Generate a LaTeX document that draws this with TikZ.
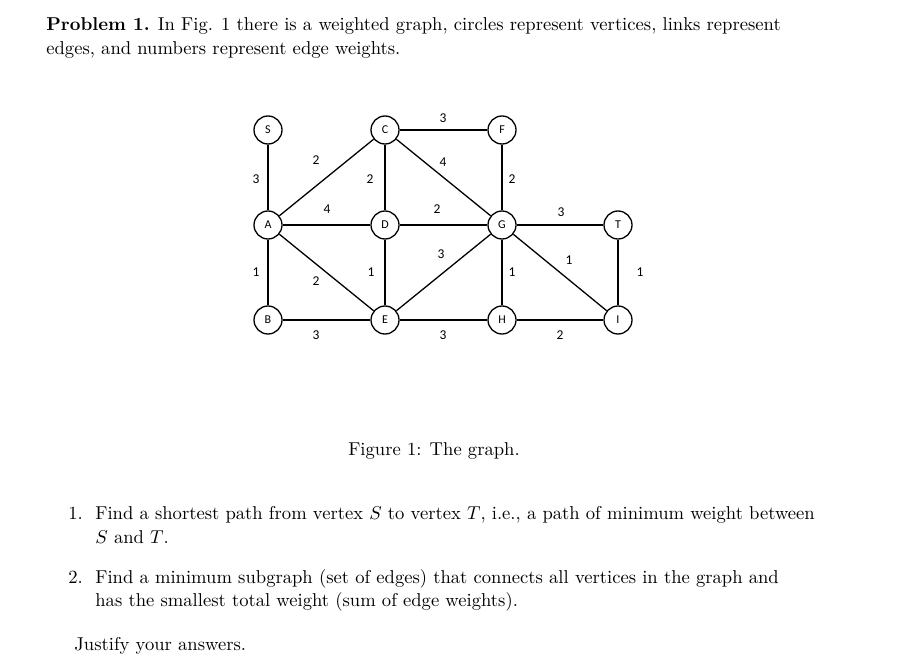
\documentclass[tikz,border=0pt]{standalone}
\usepackage{fontspec}
\newfontfamily\calfont{Carlito}
\begin{document}
\begin{tikzpicture}[x=1pt,y=-1pt,
  v/.style={circle,draw,line width=1.3pt,minimum size=28pt,inner sep=0pt,fill=white,font=\calfont\fontsize{12}{12}\selectfont},
  w/.style={font=\calfont\fontsize{13.5}{13.5}\selectfont,inner sep=0pt},
  e/.style={line width=1.3pt},
  t/.style={anchor=base west,inner sep=0pt,font=\fontsize{10}{12}\selectfont,scale=1.86,transform shape}]
\useasboundingbox (0,0) rectangle (912,663);
\node[t] (l1) at (46,31) {\textbf{Problem 1.} In Fig. 1 there is a weighted graph, circles represent vertices, links represent};
\node[t] (l2) at (46,55) {edges, and numbers represent edge weights.};
\node[v] (S) at (268,130) {S};
\node[v] (C) at (385,130) {C};
\node[v] (F) at (502,130) {F};
\node[v] (A) at (268,225) {A};
\node[v] (D) at (385,225) {D};
\node[v] (G) at (502,225) {G};
\node[v] (T) at (618,225) {T};
\node[v] (B) at (268,320) {B};
\node[v] (E) at (385,320) {E};
\node[v] (H) at (502,320) {H};
\node[v] (I) at (618,320) {I};
\draw[e] (S)--(A); \draw[e] (A)--(B); \draw[e] (A)--(C); \draw[e] (A)--(D);
\draw[e] (A)--(E); \draw[e] (C)--(D); \draw[e] (C)--(F); \draw[e] (C)--(G);
\draw[e] (D)--(G); \draw[e] (D)--(E); \draw[e] (E)--(G); \draw[e] (B)--(E);
\draw[e] (E)--(H); \draw[e] (F)--(G); \draw[e] (G)--(T); \draw[e] (G)--(I);
\draw[e] (G)--(H); \draw[e] (H)--(I); \draw[e] (T)--(I);
\node[w] (w1) at (256,179) {3};
\node[w] (w2) at (256,272) {1};
\node[w] (w3) at (316,160) {2};
\node[w] (w4) at (327,209) {4};
\node[w] (w5) at (316,281) {2};
\node[w] (w6) at (370,179) {2};
\node[w] (w7) at (443,118) {3};
\node[w] (w8) at (443,162) {4};
\node[w] (w9) at (437,209) {2};
\node[w] (w10) at (371,272) {1};
\node[w] (w11) at (441,254) {3};
\node[w] (w12) at (316,335) {3};
\node[w] (w13) at (443,335) {3};
\node[w] (w14) at (512,179) {2};
\node[w] (w15) at (561,212) {3};
\node[w] (w16) at (569,260) {1};
\node[w] (w17) at (512,272) {1};
\node[w] (w18) at (560,335) {2};
\node[w] (w19) at (640,272) {1};
\node[t,anchor=base] (cap) at (434,455) {Figure 1: The graph.};
\node[t] (n1) at (68,519) {1.};
\node[t] (a1) at (95,519) {Find a shortest path from vertex $S$ to vertex $T$, i.e., a path of minimum weight between};
\node[t] (a2) at (95,543) {$S$ and $T$.};
\node[t] (n2) at (68,583) {2.};
\node[t] (b1) at (95,583) {Find a minimum subgraph (set of edges) that connects all vertices in the graph and};
\node[t] (b2) at (95,606) {has the smallest total weight (sum of edge weights).};
\node[t] (j) at (74,650) {Justify your answers.};
\end{tikzpicture}
\end{document}
